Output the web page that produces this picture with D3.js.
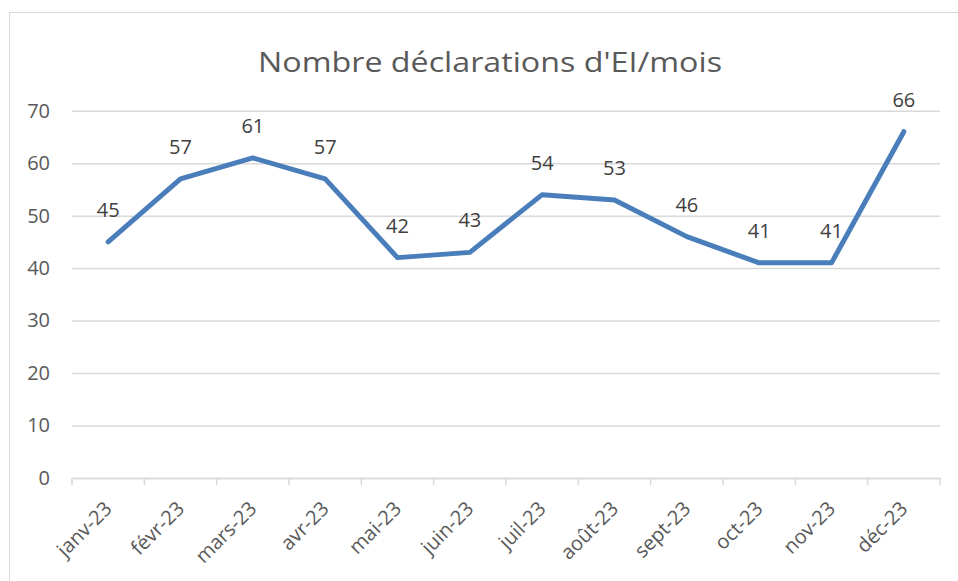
<!DOCTYPE html>
<html><head><meta charset="utf-8">
<script src="https://cdn.jsdelivr.net/npm/d3@7"></script>
<style>body{margin:0;background:#fff}svg{display:block}</style>
</head><body>
<svg id="c" width="958" height="581"></svg>
<script>
const categories = ["janv-23","févr-23","mars-23","avr-23","mai-23","juin-23","juil-23","août-23","sept-23","oct-23","nov-23","déc-23"];
const values = [45,57,61,57,42,43,54,53,46,41,41,66];
const yTicks = [0,10,20,30,40,50,60,70];
const title = "Nombre déclarations d'EI/mois";

const svg = d3.select("#c");
const W = 958, H = 581;
const m = {left:72, right:18, top:110.7, bottom:103};
const font = "'Open Sans', sans-serif";
const textColor = "#595959";

svg.append("rect").attr("x",9.5).attr("y",12.5).attr("width",W+10).attr("height",H+10)
  .attr("fill","#fff").attr("stroke","#d9d9d9").attr("stroke-width",1);

const x = d3.scaleBand().domain(categories).range([m.left, W - m.right]).padding(0);
const y = d3.scaleLinear().domain([0,70]).range([H - m.bottom, m.top]);

// gridlines
const gy = d3.axisLeft(y).tickValues(yTicks).tickSize(-(W - m.right - m.left)).tickFormat(d=>d).tickPadding(22);
const gyG = svg.append("g").attr("transform",`translate(${m.left},0)`).call(gy);
gyG.select(".domain").remove();
gyG.selectAll(".tick line").attr("stroke","#d9d9d9").attr("stroke-width",1.5);
gyG.selectAll(".tick text").attr("fill",textColor).style("font-family",font).style("font-size","20px");

// x axis
const xa = d3.axisBottom(x).tickSize(0).tickFormat(d=>d);
const xaG = svg.append("g").attr("transform",`translate(0,${y(0)})`).call(xa);
xaG.select(".domain").attr("stroke","#d9d9d9").attr("stroke-width",1.5);
xaG.selectAll(".tick text")
  .attr("fill",textColor).style("font-family",font).style("font-size","20px")
  .attr("text-anchor","end")
  .attr("x",0).attr("y",0).attr("dy",0)
  .attr("transform","translate(5,32) rotate(-45)");
// boundary ticks
const bounds = d3.range(categories.length+1).map(i => m.left + i*x.step());
svg.append("g").selectAll("line").data(bounds).join("line")
  .attr("x1",d=>d).attr("x2",d=>d).attr("y1",y(0)).attr("y2",y(0)+7)
  .attr("stroke","#d9d9d9").attr("stroke-width",1.5);

// line
const line = d3.line().x((d,i)=>x(categories[i]) + x.bandwidth()/2).y(d=>y(d));
svg.append("path").datum(values).attr("d",line)
  .attr("fill","none").attr("stroke","#4a7ebb").attr("stroke-width",5)
  .attr("stroke-linejoin","round").attr("stroke-linecap","round");

// labels
svg.append("g").selectAll("text").data(values).join("text")
  .attr("x",(d,i)=>x(categories[i]) + x.bandwidth()/2)
  .attr("y",d=>y(d)-25)
  .attr("text-anchor","middle")
  .attr("fill","#404040").style("font-family",font).style("font-size","20px")
  .text(d=>d);

// title
svg.append("text").attr("x",490).attr("y",72).attr("text-anchor","middle")
  .attr("fill",textColor).style("font-family",font).style("font-size","27px")
  .attr("textLength",464).attr("lengthAdjust","spacingAndGlyphs")
  .text(title);
</script>
</body></html>
